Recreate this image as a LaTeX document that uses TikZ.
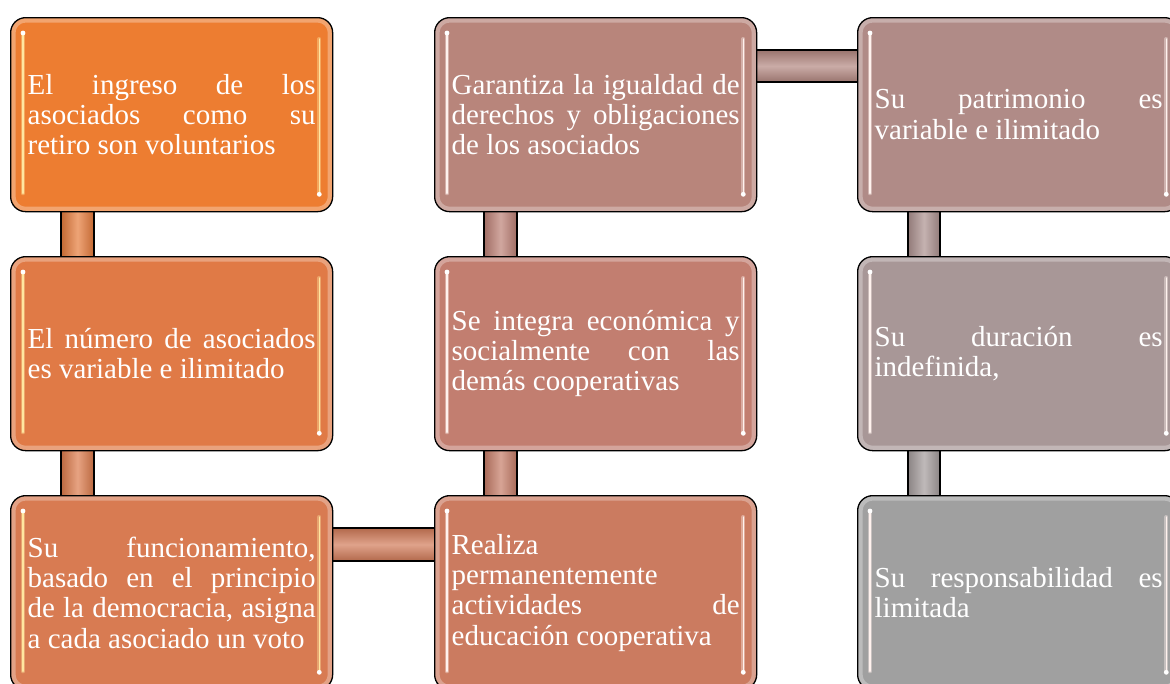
\documentclass[tikz,border=0pt]{standalone}
\usepackage{fontspec}
\setmainfont{Liberation Serif}
\definecolor{cA}{HTML}{ED7D31}
\definecolor{cB}{HTML}{E07A46}
\definecolor{cC}{HTML}{D87B52}
\definecolor{cD}{HTML}{CB7B60}
\definecolor{cE}{HTML}{C27E70}
\definecolor{cF}{HTML}{B8857B}
\definecolor{cG}{HTML}{B08B87}
\definecolor{cH}{HTML}{A89797}
\definecolor{cI}{HTML}{A0A0A0}
\definecolor{kA}{HTML}{E67C3C}
\definecolor{kB}{HTML}{DC7B4C}
\definecolor{kC}{HTML}{D27B59}
\definecolor{kD}{HTML}{C67D68}
\definecolor{kE}{HTML}{BD8176}
\definecolor{kF}{HTML}{B48881}
\definecolor{kG}{HTML}{AC918F}
\definecolor{kH}{HTML}{A49C9C}
\definecolor{hlo}{HTML}{FFE6A0}
\definecolor{hlp}{HTML}{FFF2EE}
\newcommand\jl[1]{{\spaceskip=0pt\xspaceskip=0pt\makebox[288pt][s]{#1}}}
\newcommand\gloss[2]{%
  \draw[#2,opacity=.4,line width=4pt,line cap=round] ([xshift=13pt,yshift=-16pt]#1.north west) -- ([xshift=13pt,yshift=19pt]#1.south west);
  \draw[#2,line width=1.5pt,line cap=round] ([xshift=13pt,yshift=-16pt]#1.north west) -- ([xshift=13pt,yshift=19pt]#1.south west);
  \draw[#2,opacity=.4,line width=4pt,line cap=round] ([xshift=-14pt,yshift=-22pt]#1.north east) -- ([xshift=-14pt,yshift=18pt]#1.south east);
  \draw[#2,line width=1.5pt,line cap=round] ([xshift=-14pt,yshift=-22pt]#1.north east) -- ([xshift=-14pt,yshift=18pt]#1.south east);
  \fill[white] ([xshift=13pt,yshift=-16pt]#1.north west) circle (2.4pt);
  \fill[white] ([xshift=-14pt,yshift=18pt]#1.south east) circle (2.4pt);
}
\tikzset{
  box/.style={draw=black, line width=1.3pt, rounded corners=15pt,
    minimum width=322pt, minimum height=194pt, anchor=north west,
    text width=288pt, inner xsep=17pt, inner ysep=0pt, align=justify,
    text=white, font=\fontsize{29}{30.3}\selectfont,
    path picture={\draw[white,opacity=.3,line width=10pt,rounded corners=15pt]
      (path picture bounding box.south west) rectangle (path picture bounding box.north east);}},
  vbar/.style={left color=#1!85!black, right color=#1!85!black, middle color=#1!70!white},
  hbar/.style={top color=#1!85!black, bottom color=#1!85!black, middle color=#1!70!white},
  side/.style={draw=black, line width=1.3pt}
}
\begin{document}
\begin{tikzpicture}[x=1pt,y=-1pt]
\useasboundingbox (0,0) rectangle (1170,683);
\clip (0,0) rectangle (1170,683);
\path (10,17) coordinate (p1) (434,17) coordinate (p2) (857,17) coordinate (p3)
      (10,256) coordinate (p4) (434,256) coordinate (p5) (857,256) coordinate (p6)
      (10,495) coordinate (p7) (434,495) coordinate (p8) (857,495) coordinate (p9);
\foreach \i in {1,...,9} {\node[box, draw=none, fill=none, path picture={}] (g\i) at (p\i) {};}
% connectors
\fill[vbar=kA] ([xshift=51pt]g1.south west) rectangle ([xshift=84pt]g4.north west);
\draw[side] ([xshift=51pt]g1.south west) -- ([xshift=51pt]g4.north west) ([xshift=84pt]g1.south west) -- ([xshift=84pt]g4.north west);
\fill[vbar=kB] ([xshift=51pt]g4.south west) rectangle ([xshift=84pt]g7.north west);
\draw[side] ([xshift=51pt]g4.south west) -- ([xshift=51pt]g7.north west) ([xshift=84pt]g4.south west) -- ([xshift=84pt]g7.north west);
\fill[hbar=kC] ([yshift=-33pt]g7.north east) rectangle ([yshift=-66pt]g8.north west);
\draw[side] ([yshift=-33pt]g7.north east) -- ([yshift=-33pt]g8.north west) ([yshift=-66pt]g7.north east) -- ([yshift=-66pt]g8.north west);
\fill[vbar=kD] ([xshift=50pt]g5.south west) rectangle ([xshift=83pt]g8.north west);
\draw[side] ([xshift=50pt]g5.south west) -- ([xshift=50pt]g8.north west) ([xshift=83pt]g5.south west) -- ([xshift=83pt]g8.north west);
\fill[vbar=kE] ([xshift=50pt]g2.south west) rectangle ([xshift=83pt]g5.north west);
\draw[side] ([xshift=50pt]g2.south west) -- ([xshift=50pt]g5.north west) ([xshift=83pt]g2.south west) -- ([xshift=83pt]g5.north west);
\fill[hbar=kF] ([yshift=-33pt]g2.north east) rectangle ([yshift=-65pt]g3.north west);
\draw[side] ([yshift=-33pt]g2.north east) -- ([yshift=-33pt]g3.north west) ([yshift=-65pt]g2.north east) -- ([yshift=-65pt]g3.north west);
\fill[vbar=kG] ([xshift=51pt]g3.south west) rectangle ([xshift=83pt]g6.north west);
\draw[side] ([xshift=51pt]g3.south west) -- ([xshift=51pt]g6.north west) ([xshift=83pt]g3.south west) -- ([xshift=83pt]g6.north west);
\fill[vbar=kH] ([xshift=51pt]g6.south west) rectangle ([xshift=83pt]g9.north west);
\draw[side] ([xshift=51pt]g6.south west) -- ([xshift=51pt]g9.north west) ([xshift=83pt]g6.south west) -- ([xshift=83pt]g9.north west);
% boxes
\node[box, fill=cA] (b1) at (p1) {\jl{El ingreso de los}\\ \jl{asociados como su}\\ retiro son voluntarios};
\node[box, fill=cB] (b4) at (p4) {\jl{El número de asociados}\\ es variable e ilimitado};
\node[box, fill=cC] (b7) at (p7) {\jl{Su funcionamiento,}\\ \jl{basado en el principio}\\ \jl{de la democracia, asigna}\\ a cada asociado un voto};
\node[box, fill=cD] (b8) at (p8) {Realiza\\ permanentemente\\ \jl{actividades de}\\ educación cooperativa};
\node[box, fill=cE] (b5) at (p5) {\jl{Se integra económica y}\\ \jl{socialmente con las}\\ demás cooperativas};
\node[box, fill=cF] (b2) at (p2) {\jl{Garantiza la igualdad de}\\ \jl{derechos y obligaciones}\\ de los asociados};
\node[box, fill=cG] (b3) at (p3) {\jl{Su patrimonio es}\\ variable e ilimitado};
\node[box, fill=cH] (b6) at (p6) {\jl{Su duración es}\\ indefinida,};
\node[box, fill=cI] (b9) at (p9) {\jl{Su responsabilidad es}\\ limitada};
\gloss{b1}{hlo}
\gloss{b4}{hlo}
\gloss{b7}{hlo}
\gloss{b8}{hlp}
\gloss{b5}{hlp}
\gloss{b2}{hlp}
\gloss{b3}{hlp}
\gloss{b6}{hlp}
\gloss{b9}{hlp}
\end{tikzpicture}
\end{document}
